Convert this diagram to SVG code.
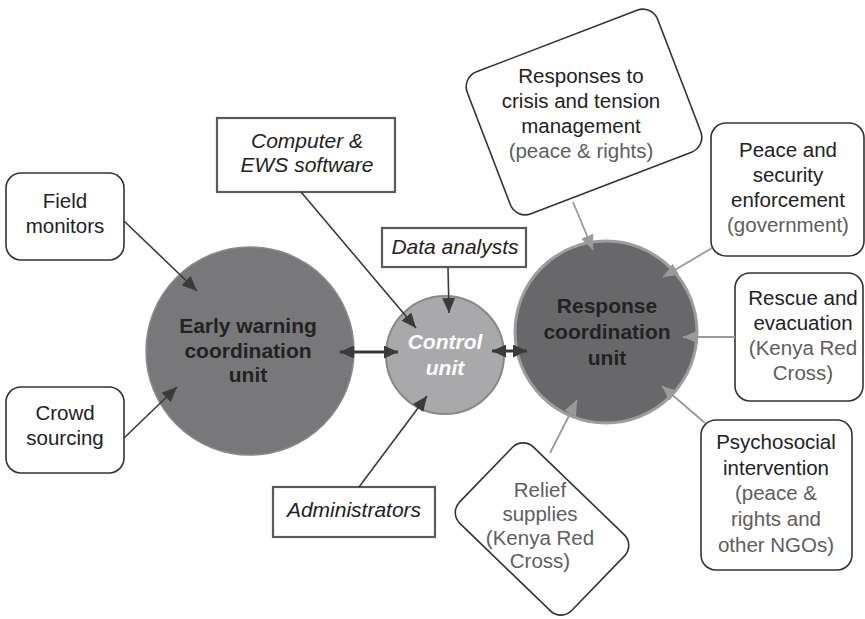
<svg xmlns="http://www.w3.org/2000/svg" width="865" height="619" viewBox="0 0 865 619">
<defs>
<style>
text{font-family:"Liberation Sans",Arial,sans-serif;font-size:20.5px;fill:#222;text-anchor:middle}
.g{fill:#5e5e5e}
.it{font-style:italic;font-size:21px}
.bd{font-weight:bold;font-size:21px;fill:#222}
.ctl{font-weight:bold;font-style:italic;font-size:21px;fill:#fff}
.rbox{fill:#fff;stroke:#333;stroke-width:1.6}
.sbox{fill:#fff;stroke:#5a5a5a;stroke-width:2.2}
.dk{stroke:#3a3a3a;stroke-width:1.6;fill:none;marker-end:url(#ad)}
.lt{stroke:#9a9a9a;stroke-width:1.8;fill:none;marker-end:url(#al)}
.dbl{stroke:#3a3a3a;stroke-width:3;fill:none;marker-end:url(#ad2);marker-start:url(#ad2)}
</style>
<marker id="ad" markerUnits="userSpaceOnUse" markerWidth="15" markerHeight="13" refX="15" refY="6.5" orient="auto"><path d="M0,0 L15,6.5 L0,13 z" fill="#3a3a3a"/></marker>
<marker id="al" markerUnits="userSpaceOnUse" markerWidth="15" markerHeight="13" refX="15" refY="6.5" orient="auto"><path d="M0,0 L15,6.5 L0,13 z" fill="#9a9a9a"/></marker>
<marker id="ad2" markerUnits="userSpaceOnUse" markerWidth="14" markerHeight="13" refX="14" refY="6.5" orient="auto-start-reverse"><path d="M0,0 L14,6.5 L0,13 z" fill="#3a3a3a"/></marker>
</defs>
<rect width="865" height="619" fill="#fff"/>

<g id="ew">
<circle cx="250" cy="351" r="104" fill="#78787b" stroke="#8a8a8d" stroke-width="1.5"/>
<text class="bd" x="248" y="333">Early warning</text>
<text class="bd" x="248" y="358">coordination</text>
<text class="bd" x="248" y="382">unit</text>
</g>

<g id="control">
<circle cx="445" cy="355" r="59" fill="#a9a9ac" stroke="#888" stroke-width="2"/>
<text class="ctl" x="445" y="349">Control</text>
<text class="ctl" x="445" y="375">unit</text>
</g>

<g id="response">
<circle cx="606" cy="332" r="91" fill="#68686b" stroke="#9d9d9f" stroke-width="3"/>
<text class="bd" x="607" y="313">Response</text>
<text class="bd" x="607" y="339">coordination</text>
<text class="bd" x="607" y="365">unit</text>
</g>

<g id="field">
<rect class="rbox" x="6" y="173" width="118" height="87" rx="15"/>
<text x="65" y="208">Field</text>
<text x="65" y="233">monitors</text>
</g>

<g id="crowd">
<rect class="rbox" x="6" y="387" width="118" height="86" rx="15"/>
<text x="65" y="420">Crowd</text>
<text x="65" y="445">sourcing</text>
</g>

<g id="computer">
<rect class="sbox" x="217" y="118" width="178" height="74"/>
<text class="it" x="307" y="148">Computer &amp;</text>
<text class="it" x="307" y="172">EWS software</text>
</g>

<g id="analysts">
<rect class="sbox" x="382" y="228" width="144" height="39"/>
<text class="it" x="455" y="254">Data analysts</text>
</g>

<g id="admin">
<rect class="sbox" x="273" y="487" width="162" height="50"/>
<text class="it" x="354" y="517">Administrators</text>
</g>

<g id="crisis">
<rect class="rbox" x="-102" y="-76" width="204" height="152" rx="16" transform="translate(584 112) rotate(-21)"/>
<text x="581" y="83">Responses to</text>
<text x="581" y="108">crisis and tension</text>
<text x="581" y="133">management</text>
<text class="g" x="581" y="158">(peace &amp; rights)</text>
</g>

<g id="peace">
<rect class="rbox" x="711" y="123" width="153" height="133" rx="15"/>
<text x="788" y="157">Peace and</text>
<text x="788" y="182">security</text>
<text x="788" y="207">enforcement</text>
<text class="g" x="788" y="232">(government)</text>
</g>

<g id="rescue">
<rect class="rbox" x="735" y="273" width="128" height="128" rx="15"/>
<text x="803" y="305">Rescue and</text>
<text x="803" y="330">evacuation</text>
<text class="g" x="803" y="355">(Kenya Red</text>
<text class="g" x="803" y="380">Cross)</text>
</g>

<g id="psycho">
<rect class="rbox" x="701" y="420" width="151" height="150" rx="15"/>
<text x="776" y="449">Psychosocial</text>
<text x="776" y="475">intervention</text>
<text class="g" x="776" y="500">(peace &amp;</text>
<text class="g" x="776" y="526">rights and</text>
<text class="g" x="776" y="552">other NGOs)</text>
</g>

<g id="relief">
<rect class="rbox" x="-78" y="-53" width="156" height="106" rx="15" transform="translate(542 529) rotate(44)"/>
<text class="g" x="540" y="497">Relief</text>
<text class="g" x="540" y="521">supplies</text>
<text class="g" x="540" y="545">(Kenya Red</text>
<text class="g" x="540" y="568">Cross)</text>
</g>

<g id="connectors">
<line class="dk" x1="124" y1="221" x2="197" y2="291"/>
<line class="dk" x1="124" y1="438" x2="177" y2="387"/>
<line class="dk" x1="301" y1="192" x2="416" y2="328"/>
<line class="dk" x1="448" y1="267" x2="449" y2="313"/>
<line class="dk" x1="359" y1="487" x2="427" y2="396"/>
<line class="dbl" x1="340" y1="352" x2="398" y2="352"/>
<line class="dbl" x1="492" y1="351" x2="527" y2="351"/>
<line class="lt" x1="573" y1="202" x2="593" y2="250"/>
<line class="lt" x1="712" y1="248" x2="663" y2="277"/>
<line class="lt" x1="735" y1="337" x2="683" y2="337"/>
<line class="lt" x1="705" y1="423" x2="662" y2="386"/>
<line class="lt" x1="550" y1="453" x2="577" y2="400"/>
</g>
</svg>
